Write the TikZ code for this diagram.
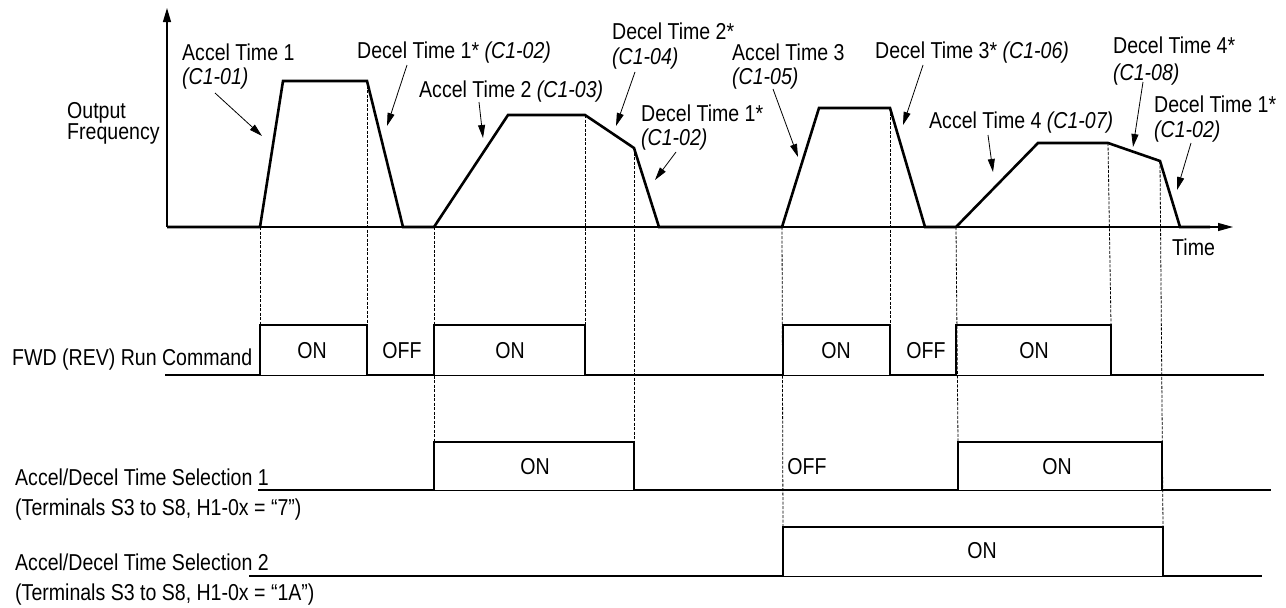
\documentclass[tikz,border=0pt]{standalone}
\usepackage{fontspec}
\setmainfont{Liberation Sans}[FakeStretch=0.85]
\usetikzlibrary{arrows.meta}
\begin{document}
\begin{tikzpicture}[x=1pt,y=-1pt,
  every node/.style={font=\fontsize{23}{25}\selectfont, inner sep=0pt},
  lbl/.style={anchor=base west},
  onoff/.style={anchor=center},
  wave/.style={line width=2.6pt, line join=miter},
  sig/.style={line width=2.6pt, line join=miter},
  baseline thin/.style={line width=1pt},
  axisline/.style={line width=1.1pt},
  guide/.style={line width=0.8pt, dash pattern=on 3pt off 1.5pt},
  callout/.style={line width=0.8pt, -{Triangle[length=13pt,width=7pt]}}]
\useasboundingbox (0,0) rectangle (1286,608);

% ---- axes
\coordinate (orig) at (167,227);
\coordinate (ytip) at (167,8);
\coordinate (xtip) at (1233,227);
\draw[axisline, -{Triangle[length=14pt,width=8pt]}] (orig) -- (ytip);
\draw[axisline, -{Triangle[length=15pt,width=8pt]}] (orig) -- (xtip);

% ---- waveform points
\coordinate (w0) at (167,227);
\coordinate (w1) at (260,227);
\coordinate (w2) at (283,81);
\coordinate (w3) at (367,81);
\coordinate (w4) at (403,227);
\coordinate (w5) at (434,227);
\coordinate (w6) at (508,115);
\coordinate (w7) at (585,115);
\coordinate (w8) at (634,148);
\coordinate (w9) at (659,227);
\coordinate (w10) at (782,227);
\coordinate (w11) at (819,108);
\coordinate (w12) at (890,108);
\coordinate (w13) at (925,227);
\coordinate (w14) at (956,227);
\coordinate (w15) at (1038,143);
\coordinate (w16) at (1108,143);
\coordinate (w17) at (1160,161);
\coordinate (w18) at (1180,227);
\coordinate (w19) at (1210,227);
\draw[wave] (w0) -- (w1) -- (w2) -- (w3) -- (w4) -- (w5) -- (w6) -- (w7) -- (w8)
  -- (w9) -- (w10) -- (w11) -- (w12) -- (w13) -- (w14) -- (w15) -- (w16) -- (w17)
  -- (w18) -- (w19);

% ---- FWD run command
\coordinate (fA) at (260,325);
\coordinate (fB) at (367,325);
\coordinate (fC) at (434,325);
\coordinate (fD) at (585,325);
\coordinate (fE) at (783,325);
\coordinate (fF) at (890,325);
\coordinate (fG) at (956,325);
\coordinate (fH) at (1111,325);
\draw[baseline thin] (165,375) -- (1264,375);
\draw[sig] (165,375) -- (260,375) -- (fA) -- (fB) -- (367,375) -- (434,375) -- (fC)
  -- (fD) -- (585,375) -- (783,375) -- (fE) -- (fF) -- (890,375) -- (956,375)
  -- (fG) -- (fH) -- (1111,375) -- (1264,375);

% ---- Selection 1
\coordinate (sA) at (434,442);
\coordinate (sB) at (634,442);
\coordinate (sC) at (958,442);
\coordinate (sD) at (1162,442);
\draw[baseline thin] (258,490) -- (1271,490);
\draw[sig] (258,490) -- (434,490) -- (sA) -- (sB) -- (634,490) -- (958,490) -- (sC)
  -- (sD) -- (1162,490) -- (1271,490);

% ---- Selection 2
\coordinate (tA) at (783,527);
\coordinate (tB) at (1163,527);
\draw[baseline thin] (249,576) -- (1262,576);
\draw[sig] (249,576) -- (783,576) -- (tA) -- (tB) -- (1163,576) -- (1262,576);

% ---- dotted guides
\draw[guide] (w1) -- (fA);
\draw[guide] (w3) -- (fB);
\draw[guide] (w5) -- (sA);
\draw[guide] (w7) -- (fD);
\draw[guide] (w8) -- (sB);
\draw[guide] (w10) -- (tA);
\draw[guide] (w12) -- (fF);
\draw[guide] (w14) -- (sC);
\draw[guide] (w16) -- (fH);
\draw[guide] (w17) -- (tB);

% ---- ON / OFF labels
\node[onoff] (on1) at (312,351) {ON};
\node[onoff] (off1) at (402,351) {OFF};
\node[onoff] (on2) at (510,351) {ON};
\node[onoff] (on3) at (836,351) {ON};
\node[onoff] (off2) at (926,351) {OFF};
\node[onoff] (on4) at (1034,351) {ON};
\node[onoff] (on5) at (535,467) {ON};
\node[onoff] (off3) at (807,467) {OFF};
\node[onoff] (on6) at (1057,467) {ON};
\node[onoff] (on7) at (982,551) {ON};

% ---- left labels
\node[lbl] (out1) at (67,118) {Output};
\node[lbl] (out2) at (67,139) {Frequency};
\node[lbl] (fwd) at (12,365) {FWD (REV) Run Command};
\node[lbl] (s1) at (15,485) {Accel/Decel Time Selection 1};
\node[lbl] (s1b) at (15,515) {(Terminals S3 to S8, H1-0x = “7”)};
\node[lbl] (s2) at (15,570) {Accel/Decel Time Selection 2};
\node[lbl] (s2b) at (15,600) {(Terminals S3 to S8, H1-0x = “1A”)};
\node[lbl] (time) at (1172,255) {Time};

% ---- callout labels
\node[lbl] (a1) at (182,60) {Accel Time 1};
\node[lbl] (a1c) at (182,84) {\itshape (C1-01)};
\node[lbl] (d1) at (357,58) {Decel Time 1* \itshape(C1-02)};
\node[lbl] (a2) at (419,97) {Accel Time 2 \itshape(C1-03)};
\node[lbl] (d2) at (612,39) {Decel Time 2*};
\node[lbl] (d2c) at (612,64) {\itshape (C1-04)};
\node[lbl] (a3) at (732,60) {Accel Time 3};
\node[lbl] (a3c) at (732,84) {\itshape (C1-05)};
\node[lbl] (d1b) at (641,121) {Decel Time 1*};
\node[lbl] (d1bc) at (641,145) {\itshape (C1-02)};
\node[lbl] (d3) at (875,58) {Decel Time 3* \itshape(C1-06)};
\node[lbl] (a4) at (929,128) {Accel Time 4 \itshape(C1-07)};
\node[lbl] (d4) at (1113,53) {Decel Time 4*};
\node[lbl] (d4c) at (1113,80) {\itshape (C1-08)};
\node[lbl] (d1c) at (1154,112) {Decel Time 1*};
\node[lbl] (d1cc) at (1154,137) {\itshape (C1-02)};

% ---- callout arrows
\coordinate (ca1s) at (215,93);   \coordinate (ca1e) at (262,136);
\coordinate (cd1s) at (407,65);   \coordinate (cd1e) at (387,126);
\coordinate (ca2s) at (479,102);  \coordinate (ca2e) at (483,138);
\coordinate (cd2s) at (635,72);   \coordinate (cd2e) at (616,126);
\coordinate (cd1bs) at (676,152); \coordinate (cd1be) at (655,180);
\coordinate (ca3s) at (773,89);   \coordinate (ca3e) at (798,157);
\coordinate (cd3s) at (923,65);   \coordinate (cd3e) at (903,125);
\coordinate (ca4s) at (988,135);  \coordinate (ca4e) at (993,172);
\coordinate (cd4s) at (1143,82);  \coordinate (cd4e) at (1133,147);
\coordinate (cd1cs) at (1191,143); \coordinate (cd1ce) at (1177,190);
\draw[callout] (ca1s) -- (ca1e);
\draw[callout] (cd1s) -- (cd1e);
\draw[callout] (ca2s) -- (ca2e);
\draw[callout] (cd2s) -- (cd2e);
\draw[callout] (cd1bs) -- (cd1be);
\draw[callout] (ca3s) -- (ca3e);
\draw[callout] (cd3s) -- (cd3e);
\draw[callout] (ca4s) -- (ca4e);
\draw[callout] (cd4s) -- (cd4e);
\draw[callout] (cd1cs) -- (cd1ce);
\end{tikzpicture}
\end{document}
